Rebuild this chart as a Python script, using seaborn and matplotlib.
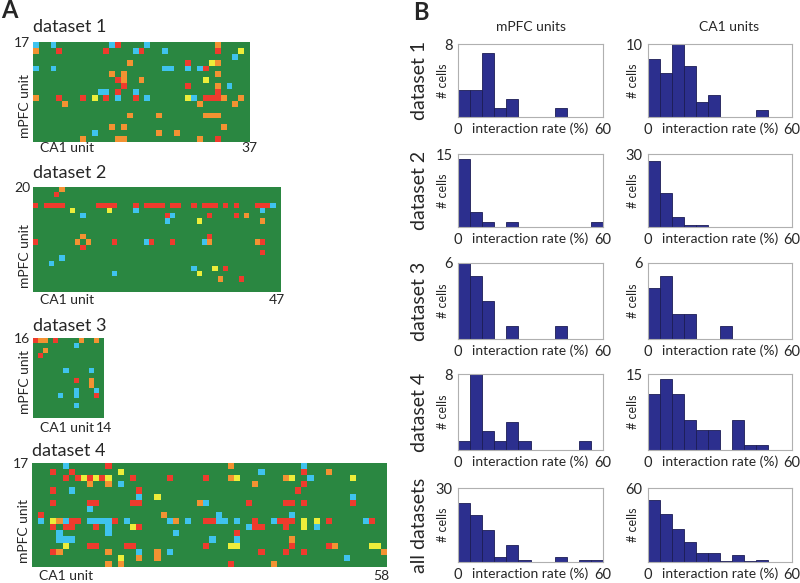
import numpy as np
import pandas as pd
import matplotlib
matplotlib.use('Agg')
import matplotlib.pyplot as plt
from matplotlib.colors import ListedColormap
import seaborn as sns

sns.set_style('white')
plt.rcParams['font.family'] = ['Lato', 'DejaVu Sans']

# ---------------- Panel A data: interaction matrices ----------------
# rows listed from the top (highest mPFC unit); letter = colour, number = CA1 column
ds1_shape = (17, 37)
ds1_cells = {
    0: "c0 c3 c13 r14 c19 o31",
    1: "o0 r4 r12 c17 r18 c22 r31 y35",
    2: "c34",
    3: "o16 r26 y30 o31",
    4: "c0 c3 c22 c23 c26 c28 r29",
    5: "o13 o15 o31",
    6: "r14 o15 o18 y29",
    7: "r15 r26 o31 c33",
    8: "c11 c12 r14 c17 r31",
    9: "o0 r4 r8 y10 r12 c14 r17 c19 y26 c27 r29 r30 r31 o32 o35",
    10: "o5 o28 o34",
    12: "o16 o21 o29 o30 o31",
    14: "o13 o15 o32",
    15: "c10 o21 o24",
    16: "o8 o14 o15 o28 r31",
}
ds2_shape = (20, 47)
ds2_cells = {
    0: "o5",
    1: "r4",
    3: "r0 r2 r3 r4 r5 r12 r13 r14 r15 r19 r21 r22 r23 r24 r26 r27 r30 r32 r33 r34 r36 r38 r42 r43 r44 c45",
    4: "y7 y14 c19 c43",
    5: "c9 r25 c26 r33 r38 o40",
    6: "c25 y31 o43",
    9: "o9 r33",
    10: "r0 o8 o10 r15 c21 r22 r26 c32 o33 o42 r43",
    11: "r9",
    12: "r43",
    13: "c5",
    14: "c3",
    15: "c30 y34 r36",
    16: "c15 y31",
    17: "o35 r39",
}
ds3_shape = (16, 14)
ds3_cells = {
    0: "r0 o1 o2 r4 o9 o12",
    1: "c8",
    2: "o2",
    3: "r1",
    6: "c6 c11",
    8: "r8 o11",
    9: "o11",
    10: "c8 c12",
    11: "c5 c8 r12",
    13: "c8",
}
ds4_shape = (17, 58)
ds4_cells = {
    0: "c5 r12 o32 c44",
    1: "r3 r6 y14 c37 r44 o48",
    2: "r5 r7 y8 r9 y10 r11 y12 r16 r22 r28 o32 y33 o41 y42 c45 y52",
    3: "o9 o12 c14 o36 r44",
    4: "r3 c6 r17 r43",
    5: "c17 y20 c52",
    6: "r3 r9 r10 r16 r17 o27 c28 r35 r41 r42 r44 r52",
    7: "c9",
    8: "r1 o21 c30 c42",
    9: "c1 y3 o4 c5 r6 r7 c9 c10 c11 c12 r13 c15 c22 o23 c25 r28 r29 c30 c31 c33 r36 c39 r40 r41 r42 y44 y46 r48 c54 r55",
    10: "r3 r5 r6 r10 c12 y16 r17 c35 r36 r37 r41 y44 c46",
    11: "c4 c12 c23 r33",
    12: "c4 c5 c6 c29 c33 o42",
    13: "y5 r9 r10 r15 r16 r28 y32 y33 r42 r48 o49 y55 y56",
    14: "r3 o4 o12 c17 o20 c22 r37 r41 r44 o57",
    15: "y14 o17 o20 c51",
    16: "o12 o14 r32 o39",
}

# ---------------- Panel B data: histograms (counts per 5% bin, 0-60) ----------------
bin_edges = [0, 5, 10, 15, 20, 25, 30, 35, 40, 45, 50, 55, 60]
mpfc_ds1 = [3, 3, 7, 1, 2, 0, 0, 0, 1, 0, 0, 0]
ca1_ds1 = [8, 6, 10, 7, 2, 3, 0, 0, 0, 1, 0, 0]
mpfc_ds2 = [14, 3, 1, 0, 1, 0, 0, 0, 0, 0, 0, 1]
ca1_ds2 = [27, 14, 4, 1, 1, 0, 0, 0, 0, 0, 0, 0]
mpfc_ds3 = [6, 5, 3, 0, 1, 0, 0, 0, 1, 0, 0, 0]
ca1_ds3 = [4, 5, 2, 2, 0, 0, 1, 0, 0, 0, 0, 0]
mpfc_ds4 = [1, 8, 2, 1, 3, 1, 0, 0, 0, 0, 1, 0]
ca1_ds4 = [11, 14, 11, 6, 4, 4, 0, 6, 1, 1, 0, 0]
mpfc_all = [24, 19, 13, 2, 7, 1, 0, 0, 2, 0, 1, 1]
ca1_all = [50, 39, 27, 16, 7, 7, 1, 6, 1, 2, 0, 0]
mpfc_ymax = [8, 15, 6, 8, 30]
ca1_ymax = [10, 30, 6, 15, 60]
row_labels = ["dataset 1", "dataset 2", "dataset 3", "dataset 4", "all datasets"]

# ---------------- styling ----------------
GREEN = '#2a8741'
RED = '#ee3b2d'
ORANGE = '#f39232'
CYAN = '#3fc3ee'
YELLOW = '#eded3a'
NAVY = '#2c2f8e'
code = {'r': 1, 'o': 2, 'c': 3, 'y': 4}
cmap = ListedColormap([GREEN, RED, ORANGE, CYAN, YELLOW])

W, H = 800, 583
fig = plt.figure(figsize=(8, 5.83), dpi=100)


def rect(x0, y0, x1, y1):
    return [x0 / W, 1 - y1 / H, (x1 - x0) / W, (y1 - y0) / H]


def ftext(x, y, s, **kw):
    fig.text(x / W, 1 - y / H, s, **kw)


def build(shape, cells):
    m = np.zeros(shape, dtype=int)
    for r, s in cells.items():
        for tok in s.split():
            m[r, int(tok[1:])] = code[tok[0]]
    return m


mats = [
    (ds1_shape, ds1_cells, (33, 42, 250, 142), "dataset 1", 27, "37", 257, 148),
    (ds2_shape, ds2_cells, (33, 187, 281, 292), "dataset 2", 173, "47", 285, 300),
    (ds3_shape, ds3_cells, (33, 338, 104, 418), "dataset 3", 326, "14", 112, 428),
    (ds4_shape, ds4_cells, (32, 463, 387, 567), "dataset 4", 451, "58", 389, 576),
]
for shape, cells, (x0, y0, x1, y1), title, ty, lastlab, lx, ly in mats:
    ax = fig.add_axes(rect(x0, y0, x1, y1))
    m = build(shape, cells)
    sns.heatmap(pd.DataFrame(m), cmap=cmap, vmin=-0.5, vmax=4.5, cbar=False,
                xticklabels=False, yticklabels=False, ax=ax)
    ax.set_xlabel('')
    ax.set_ylabel('')
    ftext(x0, ty, title, fontsize=13, ha='left', va='center')
    ftext(x0 - 3, y0 + 1, str(shape[0]), fontsize=10, ha='right', va='center')
    ftext(x0 - 8, y1 - 4, "mPFC unit", fontsize=10, rotation=90, ha='center', va='bottom')
    ftext(x0 + 7, ly, "CA1 unit", fontsize=10, ha='left', va='center')
    ftext(lx, ly, lastlab, fontsize=10, ha='right', va='center')

ftext(1, 11, "A", fontsize=17, fontweight='bold', ha='left', va='center')
ftext(413, 13, "B", fontsize=17, fontweight='bold', ha='left', va='center')
ftext(531, 27, "mPFC units", fontsize=10, ha='center', va='center')
ftext(729, 27, "CA1 units", fontsize=10, ha='center', va='center')

rows_y = [(44, 117), (154, 227), (263, 339), (374, 450), (488, 562)]
mpfc = [mpfc_ds1, mpfc_ds2, mpfc_ds3, mpfc_ds4, mpfc_all]
ca1 = [ca1_ds1, ca1_ds2, ca1_ds3, ca1_ds4, ca1_all]
centers = [(a + b) / 2 for a, b in zip(bin_edges[:-1], bin_edges[1:])]

for i, (y0, y1) in enumerate(rows_y):
    for (x0, x1), counts, ymax in [((458, 603), mpfc[i], mpfc_ymax[i]),
                                   ((648, 792), ca1[i], ca1_ymax[i])]:
        ax = fig.add_axes(rect(x0, y0, x1, y1))
        sns.histplot(x=centers, weights=counts, bins=bin_edges, ax=ax,
                     color=NAVY, edgecolor='#1c1d55', linewidth=0.6, alpha=1.0)
        ax.set_xlim(0, 60)
        ax.set_ylim(0, ymax)
        for sp in ax.spines.values():
            sp.set_color('#b0b0b0')
            sp.set_linewidth(0.8)
        ax.set_xticks([0, 60])
        ax.set_xticklabels(['0', '60'])
        ax.set_yticks([ymax])
        ax.set_yticklabels([str(ymax)])
        ax.tick_params(length=0, labelsize=10.5, pad=4)
        ax.set_xlabel('')
        ax.set_ylabel('# cells', fontsize=9)
        ax.yaxis.set_label_coords(-0.065, 0.5)
        ax.text(0.5, -0.07, 'interaction rate (%)', transform=ax.transAxes,
                fontsize=10, ha='center', va='top')
    ftext(419, (y0 + y1) / 2, row_labels[i], fontsize=14, rotation=90,
          ha='center', va='center')

fig.savefig('out.png', dpi=100)
